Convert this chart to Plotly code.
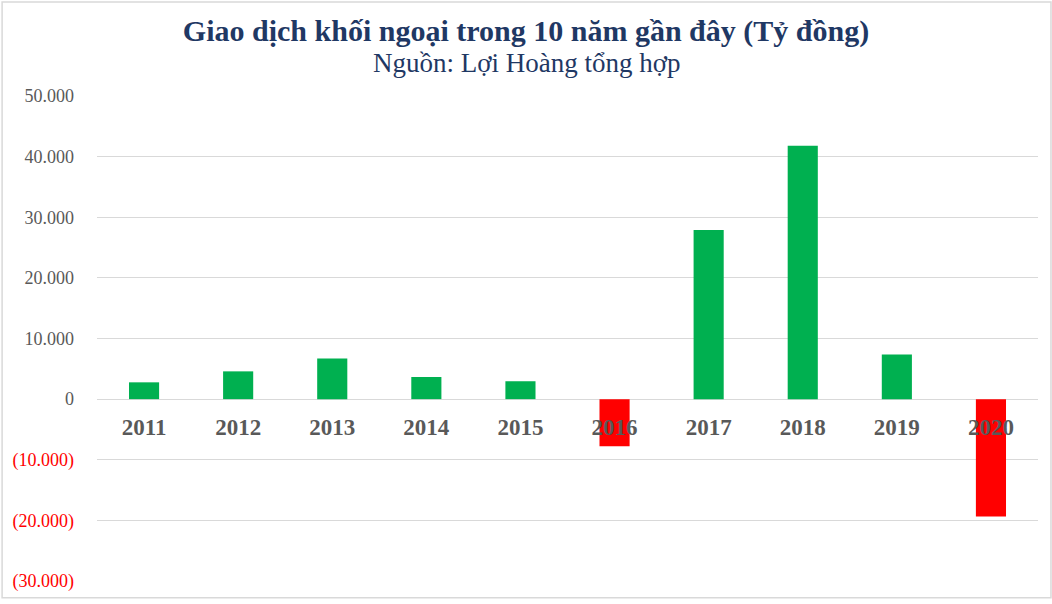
import plotly.graph_objects as go

years = ["2011", "2012", "2013", "2014", "2015", "2016", "2017", "2018", "2019", "2020"]
net_value = [2770, 4580, 6700, 3650, 2950, -7780, 27900, 41800, 7350, -19350]

tick_vals = [50000, 40000, 30000, 20000, 10000, 0, -10000, -20000, -30000]

y_min, y_max = -30000, 50000


def fmt(v):
    s = f"{abs(v):,}".replace(",", ".")
    if v < 0:
        return f"<span style='color:#FF0000'>({s})</span>"
    return s


tick_text = [fmt(v) for v in tick_vals]
bar_colors = ["#00B050" if v >= 0 else "#FF0000" for v in net_value]

fig = go.Figure()

fig.add_trace(
    go.Bar(x=years, y=net_value, marker=dict(color=bar_colors, line=dict(width=0)),
           width=0.32, hoverinfo="x+y")
)

fig.update_layout(
    width=1052, height=604,
    paper_bgcolor="white", plot_bgcolor="white",
    margin=dict(l=96, r=14, t=96, b=18),
    showlegend=False,
    font=dict(family="Liberation Serif", color="#595959"),
    title=dict(
        text="<b>Giao dịch khối ngoại trong 10 năm gần đây (Tỷ đồng)</b>",
        x=0.5, xanchor="center", xref="container",
        y=1 - 30 / 604, yanchor="middle", yref="container",
        font=dict(family="Liberation Serif", size=30, color="#1F3864"),
    ),
    annotations=[dict(
        text="Nguồn: Lợi Hoàng tổng hợp",
        xref="paper", yref="paper", x=(526 - 96) / 942, y=(586 - 63) / 490,
        xanchor="center", yanchor="middle", showarrow=False,
        font=dict(family="Liberation Serif", size=27, color="#1F3864"),
    )],
    xaxis=dict(
        anchor="free",
        position=(0 - y_min) / (y_max - y_min),
        showline=False, ticks="",
        tickfont=dict(family="Liberation Serif", size=23, color="#595959", weight="bold"),
        ticklabelstandoff=12,
    ),
    yaxis=dict(
        range=[y_min, y_max],
        tickvals=tick_vals, ticktext=tick_text,
        showgrid=True, gridcolor="#D9D9D9", gridwidth=1,
        zeroline=True, zerolinecolor="#D9D9D9", zerolinewidth=1,
        tickfont=dict(family="Liberation Serif", size=18, color="#595959"),
        ticklabelstandoff=22,
    ),
    shapes=[dict(type="rect", xref="paper", yref="paper",
                 x0=-95 / 942, x1=1 + 13 / 942, y0=-17 / 490, y1=1 + 95 / 490,
                 line=dict(color="#D9D9D9", width=1.5), fillcolor="rgba(0,0,0,0)", layer="below")],
)

fig.write_html(
    "out.html",
    config={"displayModeBar": False},
    post_script="document.documentElement.style.overflow='hidden';"
                "document.body.style.margin='0';document.body.style.overflow='hidden';",
)
